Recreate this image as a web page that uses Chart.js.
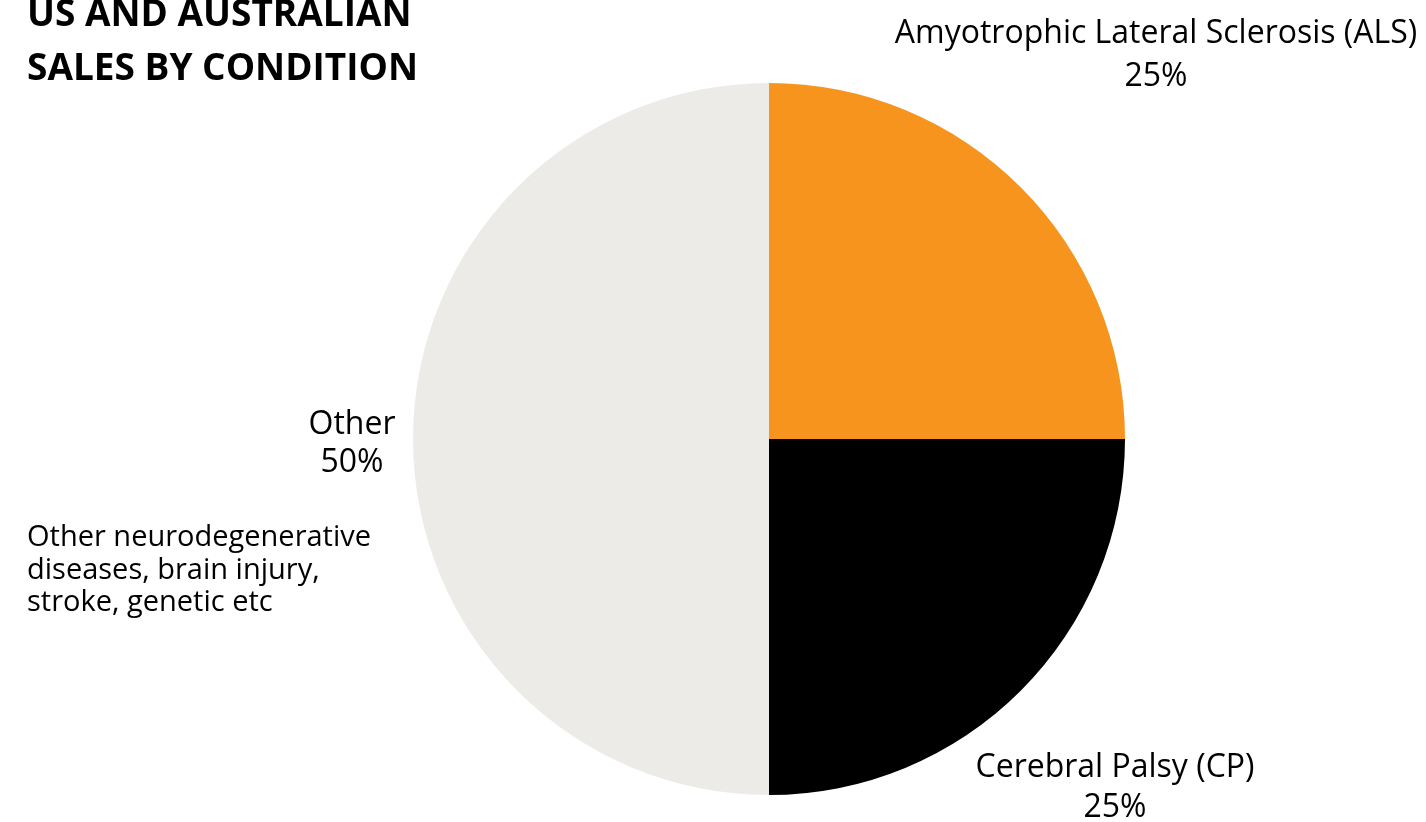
<!DOCTYPE html>
<html>
<head>
<meta charset="utf-8">
<script src="https://cdn.jsdelivr.net/npm/chart.js@4/dist/chart.umd.min.js"></script>
<style>
    html, body { margin: 0; padding: 0; background: #fff; }
    #wrap { position: relative; width: 1426px; height: 822px; overflow: hidden; }
    #salesChart { position: absolute; left: 0; top: 0; }
    .title {
        position: absolute; left: 27px; top: -15px;
        font-family: 'Open Sans', sans-serif; font-weight: 700;
        font-size: 37px; line-height: 54px; color: #000;
    }
    .note {
        position: absolute; left: 27px; top: 519px;
        font-family: 'Open Sans', sans-serif; font-size: 29px;
        line-height: 32.5px; color: #000;
    }
</style>
</head>
<body>
<div id="wrap">
    <canvas id="salesChart" width="1426" height="822"></canvas>
    <div class="title">US AND AUSTRALIAN<br>SALES BY CONDITION</div>
    <div class="note">Other neurodegenerative<br>diseases, brain injury,<br>stroke, genetic etc</div>
</div>
<script>
// Ventas por condición (US + Australia)
const conditions = ['Amyotrophic Lateral Sclerosis (ALS)', 'Cerebral Palsy (CP)', 'Other'];
const shares = [25, 25, 50];
const sliceColors = ['#F7941E', '#000000', '#ECEBE8'];

// posiciones de las etiquetas (centro x, línea base 1, línea base 2)
const labelSpots = [
    { x: 1156, y1: 43, y2: 86 },
    { x: 1115, y1: 777, y2: 817 },
    { x: 352, y1: 434, y2: 472 }
];

const sliceLabels = {
    id: 'sliceLabels',
    afterDraw(chart) {
        const ctx = chart.ctx;
        const meta = chart.getDatasetMeta(0);
        ctx.save();
        ctx.font = '32px "Open Sans", sans-serif';
        ctx.fillStyle = '#000';
        ctx.textAlign = 'center';
        ctx.textBaseline = 'alphabetic';
        meta.data.forEach((arc, i) => {
            const spot = labelSpots[i];
            ctx.fillText(chart.data.labels[i], spot.x, spot.y1);
            ctx.fillText(chart.data.datasets[0].data[i] + '%', spot.x, spot.y2);
        });
        ctx.restore();
    }
};

new Chart(document.getElementById('salesChart'), {
    type: 'pie',
    data: {
        labels: conditions,
        datasets: [{
            data: shares,
            backgroundColor: sliceColors,
            borderWidth: 0
        }]
    },
    options: {
        responsive: false,
        animation: false,
        layout: {
            padding: { left: 413, right: 301, top: 83, bottom: 27 }
        },
        plugins: {
            legend: { display: false },
            tooltip: { enabled: false }
        }
    },
    plugins: [sliceLabels]
});
</script>
</body>
</html>
